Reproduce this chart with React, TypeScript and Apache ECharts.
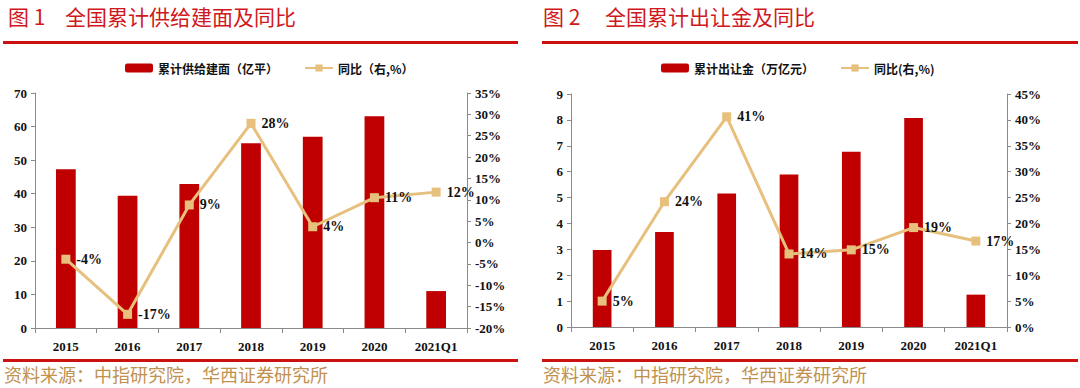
import React, { useEffect, useRef } from "react";
import * as echarts from "echarts";

const categories = ["2015", "2016", "2017", "2018", "2019", "2020", "2021Q1"];
const supplyArea = [47.3, 39.4, 42.9, 55.0, 57.0, 63.1, 11.0];
const supplyYoY = [-3.9, -16.8, 8.8, 27.9, 3.7, 10.5, 11.8];
const landRevenue = [2.97, 3.67, 5.16, 5.89, 6.77, 8.07, 1.25];
const landYoY = [5.0, 24.2, 40.6, 14.1, 14.9, 19.2, 16.6];

const title1 = "图 1";
const title1b = "全国累计供给建面及同比";
const title2 = "图 2";
const title2b = "全国累计出让金及同比";
const source = "资料来源：中指研究院，华西证券研究所";
const legend1Bar = "累计供给建面（亿平）";
const legend1Line = "同比（右,%）";
const legend2Bar = "累计出让金（万亿元）";
const legend2Line = "同比(右,%)";

const RED = "#C00000";
const GOLD = "#E6C07C";
const SERIF = "'Liberation Serif', 'Times New Roman', serif";
const CJK = "'Noto Sans CJK SC', sans-serif";
const AXIS = "#8a8a8a";
const TITLE_RED = "#D01820";

function axisLabel(fmt?: string) {
  return {
    fontFamily: SERIF,
    fontWeight: "bold" as const,
    fontSize: 13,
    color: "#111",
    formatter: fmt,
  };
}

export default function App() {
  const ref = useRef<HTMLDivElement>(null);
  useEffect(() => {
    if (!ref.current) return;
    const chart = echarts.init(ref.current, undefined, { renderer: "svg" });
    const xAxisBase = (gridIndex: number) => ({
      type: "category" as const,
      gridIndex,
      data: categories,
      axisLine: { lineStyle: { color: AXIS, width: 1 } },
      axisTick: { show: true, alignWithLabel: false, length: 5, lineStyle: { color: AXIS } },
      axisLabel: { ...axisLabel(), margin: 12 },
    });
    const yAxisBase = (gridIndex: number, min: number, max: number, interval: number, pct: boolean) => ({
      type: "value" as const,
      gridIndex,
      min,
      max,
      interval,
      splitLine: { show: false },
      axisLine: { show: true, lineStyle: { color: AXIS, width: 1 } },
      axisTick: { show: true, length: 4, lineStyle: { color: AXIS } },
      axisLabel: { ...axisLabel(pct ? "{value}%" : undefined), margin: 8 },
    });
    const lineLabel = {
      show: true,
      position: "right" as const,
      distance: 6,
      fontFamily: SERIF,
      fontWeight: "bold" as const,
      fontSize: 14,
      color: "#111",
      formatter: (p: any) => `${Math.round(p.value)}%`,
    };
    const legendText = { fontFamily: CJK, fontWeight: "bold" as const, fontSize: 12, color: "#111" };
    chart.setOption({
      animation: false,
      grid: [
        { left: 35, right: 613, top: 93, bottom: 60 },
        { left: 571, right: 73, top: 94, bottom: 61 },
      ],
      legend: [
        {
          left: 120,
          top: 57,
          itemWidth: 28,
          itemHeight: 9,
          itemGap: 26,
          textStyle: legendText,
          data: [legend1Bar, legend1Line],
        },
        {
          left: 656,
          top: 57,
          itemWidth: 28,
          itemHeight: 9,
          itemGap: 26,
          textStyle: legendText,
          data: [legend2Bar, legend2Line],
        },
      ],
      xAxis: [xAxisBase(0), xAxisBase(1)],
      yAxis: [
        yAxisBase(0, 0, 70, 10, false),
        { ...yAxisBase(0, -20, 35, 5, true), position: "right" },
        yAxisBase(1, 0, 9, 1, false),
        { ...yAxisBase(1, 0, 45, 5, true), position: "right" },
      ],
      series: [
        {
          name: legend1Bar,
          type: "bar",
          xAxisIndex: 0,
          yAxisIndex: 0,
          data: supplyArea,
          barWidth: "32%",
          itemStyle: { color: RED },
        },
        {
          name: legend1Line,
          type: "line",
          xAxisIndex: 0,
          yAxisIndex: 1,
          data: supplyYoY,
          symbol: "rect",
          symbolSize: 9,
          lineStyle: { color: GOLD, width: 3 },
          itemStyle: { color: GOLD },
          label: lineLabel,
        },
        {
          name: legend2Bar,
          type: "bar",
          xAxisIndex: 1,
          yAxisIndex: 2,
          data: landRevenue,
          barWidth: "30%",
          itemStyle: { color: RED },
        },
        {
          name: legend2Line,
          type: "line",
          xAxisIndex: 1,
          yAxisIndex: 3,
          data: landYoY,
          symbol: "rect",
          symbolSize: 9,
          lineStyle: { color: GOLD, width: 3 },
          itemStyle: { color: GOLD },
          label: lineLabel,
        },
      ],
      graphic: [
        { type: "text", left: 8, top: 5, style: { text: title1, font: `21px ${CJK}`, fill: TITLE_RED } },
        { type: "text", left: 65, top: 5, style: { text: title1b, font: `21px ${CJK}`, fill: TITLE_RED } },
        { type: "text", left: 543, top: 5, style: { text: title2, font: `21px ${CJK}`, fill: TITLE_RED } },
        { type: "text", left: 605, top: 5, style: { text: title2b, font: `21px ${CJK}`, fill: TITLE_RED } },
        { type: "rect", shape: { x: 3, y: 41, width: 515, height: 3 }, style: { fill: "#CC1111" } },
        { type: "rect", shape: { x: 542, y: 41, width: 536, height: 3 }, style: { fill: "#CC1111" } },
        { type: "rect", shape: { x: 3, y: 359, width: 515, height: 3 }, style: { fill: "#CC1111" } },
        { type: "rect", shape: { x: 542, y: 359, width: 536, height: 3 }, style: { fill: "#CC1111" } },
        { type: "text", left: 4, top: 365, style: { text: source, font: `18px ${CJK}`, fill: "#C0914F" } },
        { type: "text", left: 543, top: 365, style: { text: source, font: `18px ${CJK}`, fill: "#C0914F" } },
      ],
    });
    return () => chart.dispose();
  }, []);
  return (
    <div
      ref={ref}
      style={{ position: "fixed", left: 0, top: 0, width: 1080, height: 388, background: "#fff" }}
    />
  );
}
